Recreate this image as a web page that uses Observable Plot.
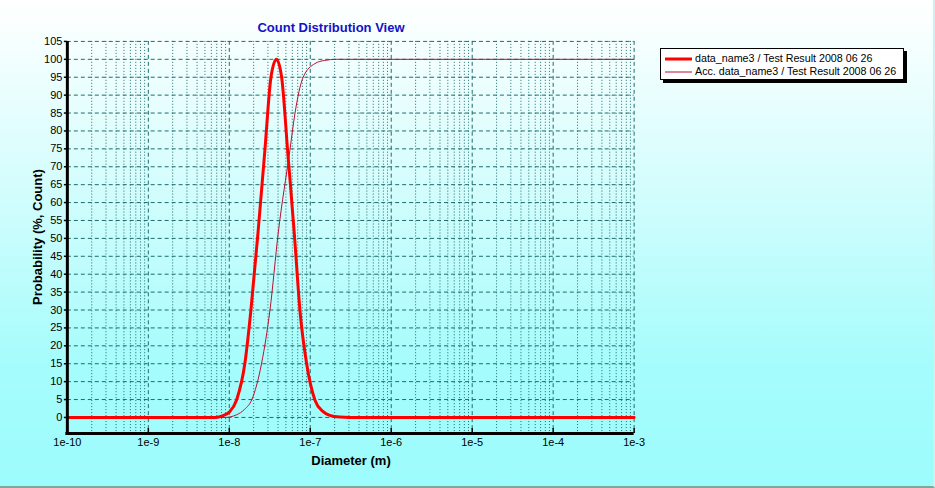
<!DOCTYPE html>
<html>
<head>
<meta charset="utf-8">
<script src="https://cdn.jsdelivr.net/npm/d3@7"></script>
<script src="https://cdn.jsdelivr.net/npm/@observablehq/plot@0.6"></script>
<style>
  html, body { margin: 0; padding: 0; }
  body { width: 935px; height: 488px; overflow: hidden; font-family: "Liberation Sans", Arial, sans-serif; }
  #wrap { position: relative; width: 935px; height: 488px; background: linear-gradient(to bottom, #ffffff 0%, #d8fdfd 35%, #a6fcfc 75%, #9dfcfc 100%); box-sizing: border-box; border-bottom: 2px solid #7fa89a; border-right: 2px solid #d0f0f0; }
  #chart { position: absolute; left: 0; top: 0; }
  .title { position: absolute; left: 231px; width: 200px; top: 20px; text-align: center; font-weight: bold; font-size: 13px; color: #1212c8; }
  .xlabel { position: absolute; left: 251px; width: 200px; top: 453px; text-align: center; font-weight: bold; font-size: 13px; color: #000; }
  .ylabel { position: absolute; left: 37px; top: 237px; transform: translate(-50%, -50%) rotate(-90deg); white-space: nowrap; font-weight: bold; font-size: 13px; color: #000; }
  .legend { position: absolute; left: 660px; top: 48px; width: 242px; height: 30px; background: #fff; border: 1px solid #000; box-shadow: 3px 3px 0 #000; font-size: 10.7px; color: #000; }
  .legend .sw { position: absolute; left: 4px; }
  .legend .txt { position: absolute; left: 34px; white-space: nowrap; line-height: 13px; }
</style>
</head>
<body>
<div id="wrap">
  <div id="chart"></div>
  <div class="title">Count Distribution View</div>
  <div class="xlabel">Diameter (m)</div>
  <div class="ylabel">Probability (%, Count)</div>
  <div class="legend" id="legend"></div>
</div>
<script>
// ---- data ----
const seriesNames = ["data_name3 / Test Result 2008 06 26", "Acc. data_name3 / Test Result 2008 06 26"];

// Count distribution (%)
const distDiameter = [1e-10, 6.67e-9, 8.38e-9, 1.0e-8, 1.23e-8, 1.56e-8, 1.85e-8, 2.26e-8, 2.75e-8, 3.27e-8, 3.82e-8, 4.43e-8, 5.25e-8, 6.37e-8, 7.45e-8, 8.99e-8, 1.14e-7, 1.43e-7, 1.74e-7, 2.32e-7, 3.08e-7, 1e-3];
const distValue    = [0,     0,       0.5,     1.5,    4.9,     15.2,    30,      51.5,    74.6,    95,      100,     95,      74.6,    51,      30,      15.2,    4.9,     1.7,     0.6,     0.1,     0,       0];

// Accumulated distribution (%)
const accDiameter = [1e-10, 8.85e-9, 1.23e-8, 1.55e-8, 1.89e-8, 2.51e-8, 3.18e-8, 4.02e-8, 5.60e-8, 6.46e-8, 8.17e-8, 1.14e-7, 1.51e-7, 2.11e-7, 1e-3];
const accValue    = [0,     0,       0.75,    2.3,     4.9,     15.2,    30,      51.5,    74.6,    84.8,    95,      98.8,    99.7,    100,     100];

// ticks
const xTickValues = [1e-10, 1e-9, 1e-8, 1e-7, 1e-6, 1e-5, 1e-4, 1e-3];
const xTickLabels = ["1e-10", "1e-9", "1e-8", "1e-7", "1e-6", "1e-5", "1e-4", "1e-3"];
const yTickValues = [0, 5, 10, 15, 20, 25, 30, 35, 40, 45, 50, 55, 60, 65, 70, 75, 80, 85, 90, 95, 100, 105];

// ---- build ----
const colDist = "#ff0000";
const colAcc = "#b8102e";
const gridCol = "#1d6b6b";

const distData = distDiameter.map((d, i) => ({d, v: distValue[i]}));
const accData = accDiameter.map((d, i) => ({d, v: accValue[i]}));
const minorTicks = d3.scaleLog().domain([1e-10, 1e-3]).ticks().filter(t => !xTickValues.some(m => Math.abs(m - t) / m < 1e-6));
const labelOf = new Map(xTickValues.map((v, i) => [v, xTickLabels[i]]));

const plot = Plot.plot({
  width: 935,
  height: 488,
  marginLeft: 67,
  marginRight: 300,
  marginTop: 41,
  marginBottom: 54,
  style: { background: "transparent", fontFamily: "'Liberation Sans', Arial, sans-serif", fontSize: "11px", color: "#000", overflow: "visible" },
  x: { type: "log", domain: [1e-10, 1e-3] },
  y: { domain: [-4.5, 105] },
  marks: [
    Plot.gridX(minorTicks, { stroke: gridCol, strokeOpacity: 1, strokeWidth: 1, strokeDasharray: "1,2" }),
    Plot.gridX(xTickValues, { stroke: gridCol, strokeOpacity: 1, strokeWidth: 1, strokeDasharray: "4,3" }),
    Plot.gridY(yTickValues, { stroke: gridCol, strokeOpacity: 1, strokeWidth: 1, strokeDasharray: "4,3" }),
    Plot.axisY({ ticks: yTickValues, tickSize: 3, tickPadding: 2, fontSize: 11, label: null, stroke: "#000", strokeWidth: 1.5 }),
    Plot.axisX({ ticks: xTickValues, tickSize: 0, tickPadding: 5, fontSize: 11, label: null, tickFormat: d => labelOf.get(d) }),
    Plot.ruleX(xTickValues, { insetTop: 388, stroke: "#000", strokeWidth: 1.5 }),
    Plot.line(accData, { x: "d", y: "v", stroke: colAcc, strokeWidth: 1, curve: "monotone-x" }),
    Plot.line(distData, { x: "d", y: "v", stroke: colDist, strokeWidth: 3, curve: "monotone-x" }),
    Plot.ruleX([1e-10], { stroke: "#000", strokeWidth: 3 }),
    Plot.ruleY([-4.5], { stroke: "#000", strokeWidth: 3, insetLeft: -1.5 })
  ]
});
document.getElementById("chart").appendChild(plot);

// legend
const legend = document.getElementById("legend");
const sw = [{c: colDist, w: 3}, {c: colAcc, w: 1}];
seriesNames.forEach((name, i) => {
  const top = i === 0 ? 3 : 16;
  const s = document.createElementNS("http://www.w3.org/2000/svg", "svg");
  s.setAttribute("class", "sw");
  s.setAttribute("width", "27");
  s.setAttribute("height", "6");
  s.style.top = (top + 4) + "px";
  s.innerHTML = `<line x1="0" x2="27" y1="3" y2="3" stroke="${sw[i].c}" stroke-width="${sw[i].w}"/>`;
  legend.appendChild(s);
  const t = document.createElement("div");
  t.className = "txt";
  t.style.top = top + "px";
  t.textContent = name;
  legend.appendChild(t);
});
</script>
</body>
</html>
